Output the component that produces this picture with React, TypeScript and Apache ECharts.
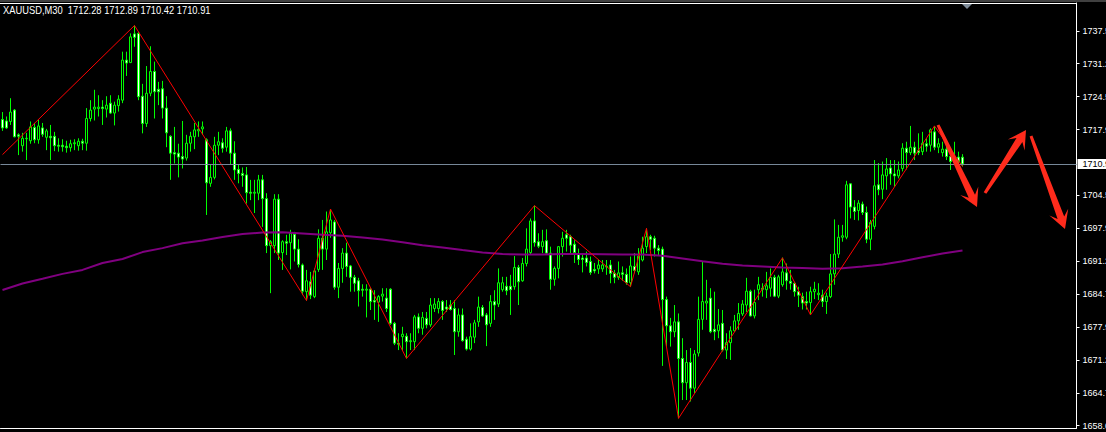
import React, { useEffect, useRef } from "react";
import * as echarts from "echarts";

const SYMBOL = "XAUUSD,M30";
const LAST_OHLC = [1712.28, 1712.89, 1710.42, 1710.91];
const CURRENT_PRICE = 1710.91;
const SLOT_COUNT = 269;
const Y_MIN = 1657.55;
const Y_MAX = 1743.44;

// [open, close, low, high]
const CANDLES: number[][] = [
  [1719.9, 1718.2, 1717.6, 1721.4], [1719.6, 1718.2, 1718.0, 1720.5], [1719.5, 1721.4, 1718.8, 1724.2], [1721.8, 1716.4, 1716.3, 1722.0],
  [1716.8, 1716.5, 1712.7, 1717.1], [1714.6, 1716.1, 1713.4, 1717.2], [1716.0, 1716.1, 1711.7, 1717.2], [1715.6, 1718.4, 1715.0, 1719.5],
  [1718.3, 1715.8, 1715.1, 1719.2], [1715.8, 1718.6, 1715.0, 1719.8], [1718.2, 1716.9, 1716.4, 1719.2], [1716.3, 1717.6, 1713.7, 1718.0],
  [1716.5, 1716.2, 1711.7, 1718.8], [1716.5, 1714.6, 1713.5, 1717.4], [1714.7, 1714.5, 1713.4, 1716.1], [1714.7, 1714.4, 1713.4, 1715.9],
  [1714.5, 1714.2, 1713.2, 1715.6], [1714.2, 1715.0, 1713.4, 1715.8], [1715.0, 1715.2, 1713.7, 1715.9], [1714.6, 1715.5, 1713.6, 1716.1],
  [1715.5, 1715.1, 1713.7, 1716.0], [1715.1, 1720.1, 1713.6, 1722.2], [1720.1, 1721.8, 1719.5, 1723.8], [1722.0, 1722.4, 1719.7, 1725.9],
  [1722.1, 1722.4, 1720.5, 1724.8], [1722.4, 1722.1, 1718.8, 1723.8], [1722.0, 1722.8, 1720.3, 1724.6], [1723.2, 1721.2, 1721.0, 1724.8],
  [1721.2, 1722.8, 1718.7, 1723.5], [1722.7, 1724.0, 1721.5, 1724.8], [1723.8, 1731.9, 1723.2, 1733.6], [1731.9, 1731.3, 1728.7, 1733.6],
  [1731.4, 1736.6, 1731.3, 1737.3], [1737.2, 1736.5, 1734.6, 1738.9], [1737.3, 1724.5, 1723.8, 1737.6], [1724.6, 1719.1, 1717.1, 1727.1],
  [1719.1, 1725.2, 1718.4, 1730.7], [1725.2, 1729.6, 1724.6, 1734.7], [1729.6, 1725.5, 1720.1, 1731.6], [1726.0, 1725.5, 1722.8, 1727.5],
  [1726.1, 1722.2, 1720.1, 1727.7], [1722.2, 1717.2, 1714.3, 1724.6], [1716.5, 1713.1, 1707.7, 1716.7], [1713.2, 1712.9, 1711.0, 1718.4],
  [1713.1, 1712.3, 1708.2, 1715.0], [1712.4, 1711.9, 1710.0, 1719.6], [1712.1, 1715.1, 1711.6, 1716.8], [1715.1, 1716.5, 1713.4, 1717.4],
  [1716.4, 1717.8, 1713.9, 1719.2], [1717.6, 1717.9, 1716.4, 1719.5], [1718.0, 1718.4, 1716.8, 1719.5], [1715.8, 1707.1, 1700.6, 1716.1],
  [1707.0, 1708.2, 1706.3, 1710.7], [1708.2, 1714.7, 1707.8, 1716.4], [1714.7, 1715.4, 1712.7, 1717.4], [1715.2, 1714.1, 1713.2, 1716.1],
  [1714.3, 1717.6, 1713.4, 1718.4], [1717.6, 1713.1, 1710.7, 1718.1], [1713.1, 1709.7, 1707.7, 1715.5], [1709.8, 1709.0, 1707.0, 1710.7],
  [1709.0, 1708.6, 1706.3, 1710.2], [1708.7, 1705.1, 1702.9, 1710.3], [1705.2, 1705.0, 1703.6, 1707.7], [1705.0, 1705.2, 1701.0, 1707.7],
  [1705.0, 1707.7, 1703.6, 1708.7], [1707.7, 1703.9, 1698.2, 1708.7], [1703.9, 1694.4, 1692.9, 1705.0], [1694.4, 1695.2, 1684.8, 1695.5],
  [1694.4, 1703.8, 1692.9, 1704.8], [1703.8, 1692.9, 1691.5, 1704.8], [1693.0, 1695.2, 1689.5, 1695.5], [1695.2, 1694.9, 1692.5, 1696.6],
  [1695.0, 1696.9, 1689.6, 1697.6], [1696.7, 1693.7, 1691.2, 1697.2], [1693.7, 1690.6, 1690.0, 1695.7], [1690.5, 1685.2, 1684.4, 1690.8],
  [1685.1, 1687.3, 1683.3, 1689.5], [1687.1, 1684.4, 1683.6, 1689.1], [1684.1, 1689.3, 1683.8, 1689.8], [1689.6, 1695.9, 1689.1, 1697.7],
  [1695.9, 1693.7, 1689.5, 1699.6], [1693.7, 1697.2, 1691.5, 1701.3], [1697.0, 1699.6, 1696.0, 1701.8], [1699.2, 1686.0, 1685.5, 1699.6],
  [1686.0, 1689.8, 1683.8, 1690.9], [1689.8, 1692.9, 1686.9, 1693.9], [1692.9, 1690.2, 1688.1, 1695.0], [1690.3, 1688.0, 1685.1, 1690.5],
  [1688.0, 1686.8, 1685.1, 1688.5], [1687.3, 1685.3, 1682.1, 1687.9], [1685.6, 1685.4, 1684.1, 1686.6], [1685.4, 1685.6, 1679.9, 1686.6],
  [1685.6, 1683.1, 1681.4, 1685.8], [1683.3, 1683.0, 1679.4, 1685.4], [1683.0, 1684.1, 1679.0, 1684.4], [1684.2, 1684.6, 1683.1, 1685.8],
  [1683.8, 1681.7, 1681.0, 1685.8], [1685.6, 1678.7, 1678.4, 1685.8], [1678.7, 1674.7, 1674.3, 1679.0], [1674.7, 1674.5, 1673.3, 1676.7],
  [1676.0, 1676.5, 1673.2, 1678.0], [1676.1, 1675.0, 1671.6, 1676.7], [1675.0, 1675.2, 1673.3, 1676.7], [1675.0, 1680.0, 1673.3, 1680.4],
  [1680.0, 1677.7, 1676.7, 1680.7], [1677.7, 1679.9, 1676.4, 1681.0], [1679.7, 1678.4, 1677.7, 1681.0], [1678.4, 1682.4, 1678.0, 1683.8],
  [1681.7, 1682.6, 1681.0, 1683.8], [1681.7, 1683.1, 1680.7, 1683.8], [1683.1, 1681.3, 1679.4, 1683.4], [1682.0, 1681.6, 1681.0, 1683.4],
  [1682.4, 1681.5, 1681.3, 1683.4], [1681.7, 1677.0, 1672.3, 1683.4], [1677.0, 1680.4, 1676.0, 1681.7], [1680.4, 1675.2, 1675.0, 1681.7],
  [1675.5, 1673.5, 1673.2, 1676.0], [1673.5, 1676.0, 1673.2, 1678.7], [1675.9, 1678.8, 1674.7, 1679.4], [1679.0, 1682.0, 1678.0, 1684.1],
  [1681.9, 1680.2, 1680.0, 1682.4], [1680.4, 1678.4, 1674.1, 1680.8], [1678.7, 1683.1, 1678.0, 1684.4], [1683.1, 1682.4, 1679.4, 1685.4],
  [1682.6, 1686.9, 1682.0, 1689.8], [1685.5, 1686.9, 1685.1, 1688.1], [1686.2, 1685.3, 1684.4, 1688.1], [1686.2, 1685.5, 1680.4, 1688.5],
  [1686.1, 1690.0, 1685.5, 1692.3], [1690.0, 1687.1, 1682.4, 1690.5], [1687.3, 1690.8, 1687.1, 1691.9], [1690.8, 1693.7, 1690.2, 1697.9],
  [1693.0, 1699.4, 1692.5, 1699.9], [1699.4, 1695.0, 1694.2, 1702.5], [1695.2, 1694.3, 1693.9, 1696.9], [1694.2, 1695.2, 1692.9, 1697.6],
  [1695.4, 1692.9, 1692.5, 1697.7], [1692.9, 1687.6, 1685.5, 1694.2], [1687.6, 1689.8, 1686.3, 1690.2], [1689.8, 1694.2, 1687.8, 1694.3],
  [1694.2, 1695.9, 1692.2, 1697.2], [1696.6, 1695.9, 1693.2, 1697.6], [1696.2, 1694.5, 1692.9, 1696.6], [1694.7, 1693.0, 1690.9, 1695.5],
  [1692.6, 1691.6, 1690.5, 1693.8], [1691.9, 1691.6, 1689.0, 1692.9], [1691.9, 1691.0, 1690.2, 1693.2], [1691.2, 1689.0, 1688.5, 1692.2],
  [1689.6, 1689.3, 1688.8, 1690.9], [1689.7, 1690.5, 1688.7, 1691.5], [1689.7, 1690.5, 1689.1, 1691.5], [1690.2, 1690.1, 1688.5, 1691.5],
  [1690.5, 1688.8, 1686.8, 1691.5], [1688.8, 1688.0, 1686.8, 1689.5], [1688.0, 1688.9, 1687.5, 1691.2], [1688.9, 1688.6, 1687.3, 1690.2],
  [1688.6, 1686.9, 1686.5, 1689.8], [1686.9, 1690.3, 1686.1, 1692.2], [1690.2, 1689.4, 1688.8, 1692.9], [1689.1, 1692.3, 1688.5, 1693.9],
  [1691.5, 1693.9, 1691.2, 1696.2], [1694.2, 1696.2, 1692.9, 1697.9], [1696.2, 1695.7, 1693.5, 1696.6], [1695.9, 1693.9, 1692.2, 1696.4],
  [1693.9, 1693.4, 1692.5, 1694.5], [1693.7, 1683.5, 1670.1, 1694.2], [1683.5, 1678.2, 1674.0, 1684.1], [1678.2, 1677.0, 1674.0, 1679.8],
  [1677.0, 1679.0, 1675.9, 1682.4], [1679.0, 1671.6, 1659.5, 1680.7], [1671.6, 1666.7, 1663.2, 1675.7], [1666.7, 1670.8, 1663.2, 1673.3],
  [1670.8, 1665.6, 1662.9, 1673.7], [1665.6, 1672.5, 1664.6, 1673.3], [1672.7, 1679.5, 1672.0, 1684.1], [1679.5, 1683.1, 1677.4, 1691.2],
  [1682.8, 1683.2, 1679.4, 1687.5], [1683.8, 1677.0, 1676.7, 1685.8], [1677.5, 1677.0, 1675.3, 1685.1], [1677.2, 1678.4, 1675.7, 1681.6],
  [1678.7, 1673.3, 1673.0, 1681.4], [1673.3, 1674.8, 1671.5, 1676.7], [1674.8, 1677.2, 1671.3, 1678.1], [1677.2, 1679.2, 1677.0, 1680.4],
  [1679.2, 1680.7, 1677.4, 1682.8], [1680.6, 1682.6, 1680.2, 1683.4], [1682.4, 1685.2, 1681.0, 1687.9], [1685.2, 1680.2, 1680.1, 1685.5],
  [1680.2, 1682.9, 1679.7, 1685.5], [1685.5, 1686.5, 1683.4, 1688.1], [1685.8, 1685.6, 1684.1, 1686.8], [1685.5, 1686.3, 1683.8, 1689.1],
  [1685.8, 1688.0, 1684.1, 1689.8], [1688.0, 1684.2, 1684.0, 1688.5], [1684.2, 1688.1, 1683.8, 1688.5], [1686.5, 1689.1, 1686.1, 1692.0],
  [1688.9, 1687.3, 1685.5, 1690.8], [1687.2, 1686.8, 1685.5, 1689.5], [1686.8, 1685.1, 1684.1, 1687.1], [1685.1, 1684.4, 1682.0, 1686.1],
  [1684.1, 1682.8, 1681.5, 1684.9], [1683.1, 1682.8, 1681.5, 1685.1], [1682.9, 1685.1, 1680.4, 1686.1], [1685.1, 1685.6, 1683.6, 1687.1],
  [1684.5, 1684.8, 1683.4, 1686.8], [1684.4, 1683.1, 1682.0, 1685.5], [1683.1, 1684.2, 1680.6, 1684.9], [1684.1, 1688.7, 1683.8, 1692.7],
  [1688.7, 1692.7, 1686.5, 1699.7], [1692.7, 1696.1, 1691.9, 1698.6], [1696.1, 1696.4, 1695.2, 1698.6], [1696.1, 1706.7, 1695.7, 1707.5],
  [1706.9, 1702.2, 1699.9, 1707.0], [1702.2, 1701.3, 1699.6, 1703.6], [1701.5, 1703.0, 1699.5, 1703.6], [1702.8, 1701.1, 1700.6, 1703.3],
  [1701.1, 1695.7, 1694.9, 1702.3], [1695.7, 1699.1, 1693.5, 1699.6], [1698.3, 1706.5, 1697.7, 1711.7], [1706.7, 1705.7, 1704.6, 1711.1],
  [1705.8, 1708.7, 1703.8, 1711.4], [1708.5, 1709.9, 1705.7, 1712.1], [1710.1, 1708.9, 1706.7, 1711.7], [1708.9, 1708.5, 1706.3, 1711.7],
  [1708.5, 1709.7, 1708.0, 1711.4], [1710.0, 1714.1, 1709.4, 1715.1], [1714.1, 1713.2, 1709.8, 1715.4], [1713.2, 1714.3, 1712.7, 1718.6],
  [1714.3, 1713.1, 1711.7, 1715.4], [1713.6, 1713.2, 1712.7, 1717.1], [1713.4, 1715.1, 1712.7, 1717.4], [1715.0, 1714.5, 1713.4, 1716.1],
  [1714.7, 1717.8, 1713.4, 1718.1], [1717.4, 1714.3, 1713.7, 1718.6], [1714.3, 1715.0, 1713.1, 1716.1], [1713.2, 1713.9, 1712.4, 1715.4],
  [1713.9, 1712.4, 1711.7, 1715.1], [1712.4, 1711.4, 1709.7, 1713.1], [1711.9, 1711.6, 1711.1, 1715.4], [1712.3, 1711.4, 1710.7, 1713.4],
  [1712.28, 1710.91, 1710.42, 1712.89],
];

// moving average, read every 5 bars: [barIndex, value]
const MA_POINTS: [number, number][] = [
  [0, 1685.45], [5, 1686.75], [10, 1687.7], [15, 1688.7], [20, 1689.5], [25, 1690.9], [30, 1691.7], [35, 1693.1],
  [40, 1693.9], [45, 1694.9], [50, 1695.45], [55, 1696.15], [60, 1696.75], [65, 1697.05], [70, 1697.1], [75, 1696.85],
  [80, 1696.6], [85, 1696.4], [90, 1696.05], [95, 1695.65], [100, 1695.1], [105, 1694.5], [110, 1694.05], [115, 1693.5],
  [120, 1693.0], [125, 1692.7], [130, 1692.6], [135, 1692.6], [140, 1692.7], [145, 1692.7], [150, 1692.65], [155, 1692.6],
  [160, 1692.6], [165, 1692.35], [170, 1691.8], [175, 1691.25], [180, 1690.75], [185, 1690.4], [190, 1690.2], [195, 1690.0],
  [200, 1689.9], [205, 1689.75], [210, 1689.85], [215, 1690.2], [220, 1690.6], [225, 1691.25], [230, 1692.05], [235, 1692.8],
  [240, 1693.4],
];

// zigzag pivots: [barIndex, price]
const ZIGZAG_POINTS: [number, number][] = [
  [0, 1712.8], [33, 1738.9], [76, 1683.3], [82, 1701.8], [101, 1671.6], [133, 1702.5], [157, 1686.1],
  [161, 1697.9], [169, 1659.5], [195, 1691.95], [202, 1680.4], [233, 1718.6], [240, 1710.4],
];

const TICK_VALUES = [1658.02, 1664.67, 1671.32, 1677.97, 1684.62, 1691.27, 1697.92, 1704.57, 1717.87, 1724.52, 1731.17, 1737.82];
const TICK_LABELS = ["1658.05", "1664.70", "1671.25", "1677.90", "1684.70", "1691.25", "1697.90", "1704.55", "1717.90", "1724.50", "1731.20", "1737.55"];

const FONT = "'Liberation Sans', Arial, sans-serif";

const ARROW_COLOR = "#ff2b1c";
const ARROWS: number[][][] = [
  [[936.6, 125.6], [968.7, 197.7], [960.2, 195.0], [977, 207], [978.3, 186.4], [975.0, 194.7], [939.4, 124.4]],
  [[986.3, 193.8], [1022.4, 142.0], [1024.6, 150.5], [1026, 130], [1007.8, 139.6], [1016.5, 138.1], [983.7, 192.2]],
  [[1029.6, 136.5], [1057.6, 218.9], [1049.4, 215.5], [1065, 229], [1068.2, 208.7], [1064.2, 216.5], [1032.4, 135.5]],
];

export default function App() {
  const ref = useRef<HTMLDivElement>(null);
  useEffect(() => {
    if (!ref.current) return;
    const chart = echarts.init(ref.current, undefined, { renderer: "svg" });
    const categories = Array.from({ length: SLOT_COUNT }, (_, i) => String(i));
    const title = `${SYMBOL}\u00a0 ${LAST_OHLC.map((v) => v.toFixed(2)).join(" ")}`;
    const labelFor = (v: number) => {
      let best = 0;
      for (let k = 1; k < TICK_VALUES.length; k++) {
        if (Math.abs(TICK_VALUES[k] - v) < Math.abs(TICK_VALUES[best] - v)) best = k;
      }
      return TICK_LABELS[best];
    };
    chart.setOption({
      animation: false,
      backgroundColor: "#000",
      grid: { left: 0.5, right: 29.5, top: 3, bottom: 4, containLabel: false, outerBoundsMode: "none" },
      xAxis: {
        type: "category",
        data: categories,
        boundaryGap: true,
        axisLine: { show: true, lineStyle: { color: "#fff", width: 1 } },
        axisTick: { show: false },
        axisLabel: { show: false },
        splitLine: { show: false },
      },
      yAxis: {
        type: "value",
        position: "right",
        min: Y_MIN,
        max: Y_MAX,
        scale: true,
        axisLine: { show: true, lineStyle: { color: "#fff", width: 1 } },
        axisTick: { show: true, inside: false, length: 3, customValues: TICK_VALUES, lineStyle: { color: "#fff" } },
        axisLabel: {
          show: true,
          customValues: TICK_VALUES,
          formatter: (v: number) => labelFor(v),
          color: "#fff",
          fontSize: 9,
          fontFamily: FONT,
          margin: 6,
        },
        splitLine: { show: false },
      },
      series: [
        {
          type: "candlestick",
          data: CANDLES,
          barWidth: 2,
          clip: false,
          itemStyle: {
            color: "#000",
            color0: "#fff",
            borderColor: "#00ff00",
            borderColor0: "#00ff00",
            borderWidth: 1,
          },
          emphasis: { disabled: true },
          markLine: {
            silent: true,
            symbol: "none",
            animation: false,
            lineStyle: { color: "#778899", type: "solid", width: 1 },
            label: {
              show: true,
              position: "end",
              distance: 1,
              formatter: () => CURRENT_PRICE.toFixed(2),
              backgroundColor: "#fff",
              color: "#000",
              fontSize: 9,
              fontFamily: FONT,
              lineHeight: 9,
              padding: [1, 3, 0, 5],
            },
            data: [{ yAxis: CURRENT_PRICE }],
          },
        },
        {
          type: "line",
          data: MA_POINTS,
          symbol: "none",
          showSymbol: false,
          lineStyle: { color: "#800080", width: 2 },
          emphasis: { disabled: true },
          z: 3,
        },
        {
          type: "line",
          data: ZIGZAG_POINTS,
          symbol: "none",
          showSymbol: false,
          lineStyle: { color: "#ff0000", width: 1 },
          emphasis: { disabled: true },
          z: 4,
        },
      ],
      graphic: [
        { type: "rect", silent: true, z: 50, shape: { x: 0, y: 0, width: 1106, height: 2 }, style: { fill: "#404040" } },
        { type: "line", silent: true, z: 50, shape: { x1: 0, y1: 3.5, x2: 1077, y2: 3.5 }, style: { stroke: "#fff", lineWidth: 1 } },
        { type: "polygon", silent: true, z: 50, shape: { points: [[962, 4], [972, 4], [967, 9]] }, style: { fill: "#7f8c99" } },
        {
          type: "text",
          silent: true,
          z: 50,
          x: 3,
          y: 5,
          scaleX: 0.85,
          style: { text: title, fill: "#fff", fontSize: 11, fontFamily: FONT, verticalAlign: "top" },
        },
        ...ARROWS.map((pts) => ({
          type: "polygon",
          silent: true,
          z: 60,
          shape: { points: pts },
          style: { fill: ARROW_COLOR },
        })),
      ],
    });
    return () => chart.dispose();
  }, []);
  return (
    <div
      ref={ref}
      style={{ position: "fixed", left: 0, top: 0, width: 1106, height: 432, background: "#000" }}
    />
  );
}
